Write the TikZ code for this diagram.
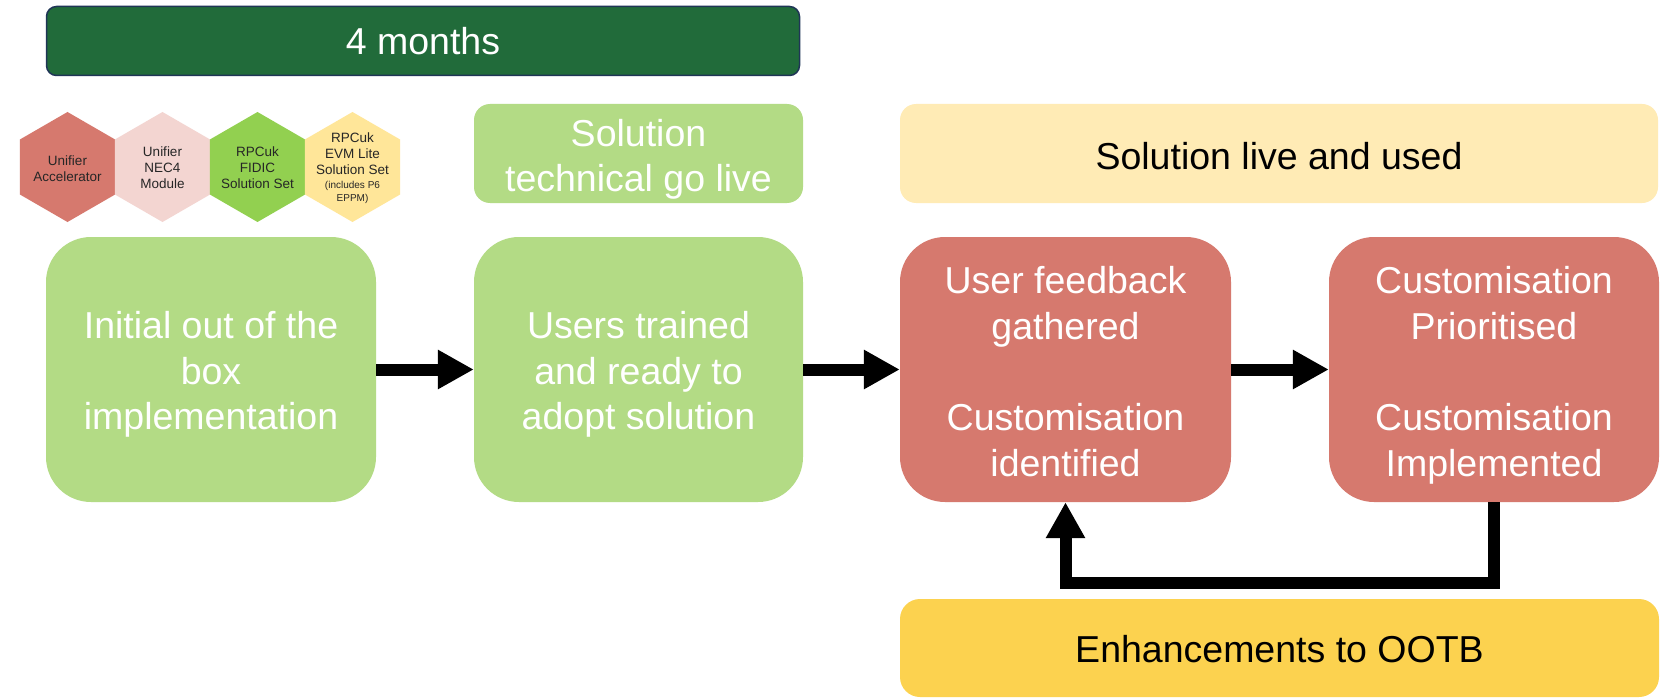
\documentclass[tikz,border=0pt]{standalone}
\usepackage{fontspec}
\setmainfont{Liberation Sans}
\usetikzlibrary{arrows.meta}
\definecolor{dkgreen}{HTML}{216B3A}
\definecolor{navyedge}{HTML}{1F3556}
\definecolor{ltgreen}{HTML}{B3DB85}
\definecolor{redbox}{HTML}{D6796E}
\definecolor{pinkhex}{HTML}{F3D5D1}
\definecolor{greenhex}{HTML}{92D050}
\definecolor{yelhex}{HTML}{FFE699}
\definecolor{ltyellow}{HTML}{FFEBB5}
\definecolor{goldbox}{HTML}{FCD24F}
\definecolor{hextext}{HTML}{262626}
\begin{document}
\begin{tikzpicture}[x=1pt,y=-1pt,
  bigbox/.style={rectangle,rounded corners=45pt,minimum height=265pt,inner sep=0pt},
  bigtxt/.style={inner sep=0pt,align=center,text=white,font=\fontsize{37.5}{45.5}\selectfont},
  labelbox/.style={rectangle,rounded corners=16pt,minimum height=99pt,inner sep=0pt},
  labeltxt/.style={inner sep=0pt,align=center,font=\fontsize{37.5}{44.5}\selectfont},
  hextxt/.style={align=center,text=hextext,inner sep=0pt,font=\fontsize{13.5}{16}\selectfont},
  flow/.style={line width=12pt,-{Triangle[length=36pt,width=37pt]},line join=miter}
]
\useasboundingbox (0,0) rectangle (1676,698);
\fill[white] (0,0) rectangle (1676,698);

% duration bar
\node[rectangle,rounded corners=10pt,fill=dkgreen,draw=navyedge,line width=1.5pt,
  minimum width=753pt,minimum height=69pt,inner sep=0pt,text=white,
  font=\fontsize{37.5}{45}\selectfont] (bar) at (423,41) {4 months};

% hexagons
\foreach \cx/\col in {67.5/redbox,162.5/pinkhex,257.5/greenhex,352.5/yelhex}{
  \fill[\col] (\cx,112) -- (\cx+47.6,139.5) -- (\cx+47.6,194.5) -- (\cx,222)
     -- (\cx-47.6,194.5) -- (\cx-47.6,139.5) -- cycle;
}
\node[hextxt] (h1) at (67.5,169) {Unifier\\Accelerator};
\node[hextxt] (h2) at (162.5,168) {Unifier\\NEC4\\Module};
\node[hextxt] (h3) at (257.5,168) {RPCuk\\FIDIC\\Solution Set};
\node[hextxt] (h4) at (352.5,168) {RPCuk\\EVM Lite\\Solution Set\\[-1.5pt]{\fontsize{10}{12}\selectfont(includes P6}\\[-3.5pt]{\fontsize{10}{12}\selectfont EPPM)}};

% top labels
\node[labelbox,fill=ltgreen,minimum width=329pt] (tech) at (638.5,153.5) {};
\node[labeltxt,text=white] (techt) at ([yshift=-6pt]tech.center) {Solution\\technical go live};
\node[labelbox,fill=ltyellow,minimum width=758pt] (live) at (1279,153.5) {};
\node[labeltxt,text=black] (livet) at ([yshift=-3pt]live.center) {Solution live and used};

% main boxes
\node[bigbox,fill=ltgreen,minimum width=330pt] (b1) at (211,369.5) {};
\node[bigtxt] (b1t) at ([yshift=-5pt]b1.center) {Initial out of the\\box\\implementation};
\node[bigbox,fill=ltgreen,minimum width=329pt] (b2) at (638.5,369.5) {};
\node[bigtxt] (b2t) at ([yshift=-5pt]b2.center) {Users trained\\and ready to\\adopt solution};
\node[bigbox,fill=redbox,minimum width=331pt] (r1) at (1065.5,369.5) {};
\node[bigtxt] (r1t) at ([yshift=-2pt]r1.center) {User feedback\\gathered\\[46pt]Customisation\\identified};
\node[bigbox,fill=redbox,minimum width=330pt] (r2) at (1494,369.5) {};
\node[bigtxt] (r2t) at ([yshift=-6pt]r2.center) {Customisation\\Prioritised\\[46pt]Customisation\\Implemented};

% enhancements
\node[labelbox,fill=goldbox,rounded corners=20pt,minimum width=759pt,
  minimum height=98pt] (enh) at (1279.5,648) {};
\node[labeltxt,text=black] (enht) at ([yshift=-1pt]enh.center) {Enhancements to OOTB};

% arrows
\draw[flow] (b1.east) -- (b2.west);
\draw[flow] (b2.east) -- (r1.west);
\draw[flow] (r1.east) -- (r2.west);
\draw[flow] (r2.south) -- ++(0,81) -| (r1.south);
\end{tikzpicture}
\end{document}
